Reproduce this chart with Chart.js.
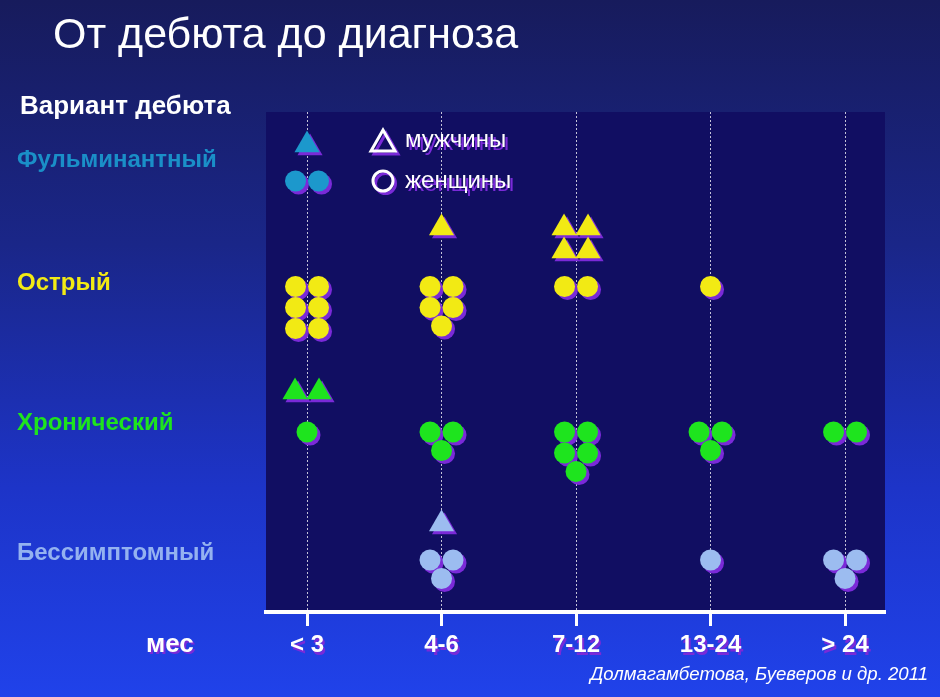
<!DOCTYPE html>
<html lang="ru">
<head>
<meta charset="utf-8">
<title>От дебюта до диагноза</title>
<script src="https://cdn.jsdelivr.net/npm/chart.js@4.4.1/dist/chart.umd.min.js"></script>
<style>
  html, body { margin: 0; padding: 0; }
  body {
    width: 940px; height: 697px; position: relative; overflow: hidden;
    background: linear-gradient(180deg, #171b5c 0%, #1a2688 35%, #1d34c8 70%, #2042ea 100%);
    font-family: "Liberation Sans", Arial, sans-serif; color: #fff;
  }
  #c { position: absolute; left: 0; top: 0; }
  .txt { position: absolute; white-space: nowrap; line-height: 1; }
  #title { left: 53px; top: 12px; font-size: 43px; }
  #head { left: 20px; top: 92px; font-size: 26px; font-weight: bold; }
  .leg { font-size: 24px; text-shadow: 3px 3px 0 #7a2ad8; }
  #unit { left: 146px; top: 630px; font-size: 26px; font-weight: bold; text-shadow: 2px 2px 0 #7a2ad8; }
  #cite { right: 12px; top: 665px; font-size: 18.6px; font-style: italic; }
  svg.sym { position: absolute; overflow: visible; }
</style>
</head>
<body>
<canvas id="c" width="940" height="697"></canvas>
<div class="txt" id="title">От дебюта до диагноза</div>
<div class="txt" id="head">Вариант дебюта</div>
<svg class="sym" style="left:369px;top:128px" width="28" height="24">
  <polygon points="17,5 29,26 5,26" fill="none" stroke="#7a2ad8" stroke-width="3"/>
  <polygon points="14,2 26,23 2,23" fill="none" stroke="#fff" stroke-width="3"/>
</svg>
<div class="txt leg" style="left:405px;top:127px">мужчины</div>
<svg class="sym" style="left:371px;top:169px" width="24" height="24">
  <circle cx="14.5" cy="14.5" r="10" fill="none" stroke="#7a2ad8" stroke-width="3"/>
  <circle cx="12" cy="12" r="10" fill="none" stroke="#fff" stroke-width="3"/>
</svg>
<div class="txt leg" style="left:405px;top:168px">женщины</div>
<div class="txt" id="unit">мес</div>
<div class="txt" id="cite">Долмагамбетова, Буеверов и др. 2011</div>
<script>
(function () {
  'use strict';

  // data: number of patients per onset variant and time-to-diagnosis period
  const periods = ['< 3', '4-6', '7-12', '13-24', '> 24'];
  const variants = ['Фульминантный', 'Острый', 'Хронический', 'Бессимптомный'];
  const menCounts = [
    [1, 0, 0, 0, 0],
    [0, 1, 4, 0, 0],
    [2, 0, 0, 0, 0],
    [0, 1, 0, 0, 0],
  ];
  const womenCounts = [
    [2, 0, 0, 0, 0],
    [6, 5, 2, 1, 0],
    [1, 3, 5, 3, 2],
    [0, 3, 0, 1, 3],
  ];

  // styles / layout
  const MARK_COLOR = ['#1c98cc', '#f2ea14', '#1ee41e', '#9cbcf0'];
  const LABEL_COLOR = ['#1a8fc8', '#f2ea14', '#1ee41e', '#94b2f0'];
  const SHADOW = '#7a2ad8';
  const PLOT_BG = '#110e62';
  const PX_PER_X = 134.5;                 // px per period on the x scale
  const MEN_ROW = [33, 116, 280, 412];    // y (px from plot top) of first triangle row
  const WOMEN_ROW = [69, 174.5, 320, 448];
  const LABEL_ROW = [48, 171, 311, 441];

  function circleOffsets(n) {
    const out = [];
    const rows = Math.floor(n / 2);
    for (let r = 0; r < rows; r++) out.push([-11.5, r * 21], [11.5, r * 21]);
    if (n % 2) out.push([0, rows ? (rows - 1) * 21 + 18.5 : 0]);
    return out;
  }
  function triangleOffsets(n) {
    const out = [];
    const rows = Math.floor(n / 2);
    for (let r = 0; r < rows; r++) out.push([-12, r * 23], [12, r * 23]);
    if (n % 2) out.push([0, rows * 23]);
    return out;
  }
  function points(counts, row, layout) {
    const pts = [];
    counts.forEach((n, p) => {
      layout(n).forEach(([dx, dy]) => pts.push({ x: p + dx / PX_PER_X, y: row + dy }));
    });
    return pts;
  }

  const datasets = [];
  variants.forEach((v, i) => {
    datasets.push({
      label: v + ' — мужчины', data: points(menCounts[i], MEN_ROW[i], triangleOffsets),
      pointStyle: 'triangle', pointRadius: 14.5, pointHoverRadius: 14.5,
      backgroundColor: MARK_COLOR[i], borderWidth: 0,
    });
    datasets.push({
      label: v + ' — женщины', data: points(womenCounts[i], WOMEN_ROW[i], circleOffsets),
      pointStyle: 'circle', pointRadius: 10.5, pointHoverRadius: 10.5,
      backgroundColor: MARK_COLOR[i], borderWidth: 0,
    });
  });

  const decor = {
    id: 'decor',
    beforeDraw(chart) {
      const { ctx, chartArea: a } = chart;
      ctx.save();
      ctx.fillStyle = PLOT_BG;
      ctx.fillRect(a.left, a.top, a.right - a.left, a.bottom - a.top);
      ctx.restore();
      const sx = chart.scales.x;
      if (!sx._shadowed) {
        const orig = sx.drawLabels;
        sx.drawLabels = function (area) {
          this.ctx.save();
          this.ctx.shadowColor = SHADOW;
          this.ctx.shadowOffsetX = 2;
          this.ctx.shadowOffsetY = 3;
          orig.call(this, area);
          this.ctx.restore();
        };
        sx._shadowed = true;
      }
    },
    beforeDatasetsDraw(chart) {
      const ctx = chart.ctx;
      ctx.save();
      ctx.shadowColor = SHADOW;
      ctx.shadowOffsetX = 3;
      ctx.shadowOffsetY = 3;
      ctx.shadowBlur = 0;
    },
    afterDatasetsDraw(chart) {
      chart.ctx.restore();
    },
  };

  new Chart(document.getElementById('c'), {
    type: 'scatter',
    data: { datasets },
    plugins: [decor],
    options: {
      responsive: false,
      animation: false,
      events: [],
      layout: { padding: { left: 17, top: 112, right: 55, bottom: 0 } },
      plugins: { legend: { display: false }, tooltip: { enabled: false } },
      scales: {
        x: {
          type: 'linear', min: -0.305, max: 4.297,
          afterBuildTicks: s => { s.ticks = periods.map((_, i) => ({ value: i })); },
          afterFit: s => { s.height = 85; },
          ticks: {
            callback: (v, i) => periods[i],
            color: '#fff', padding: 5, maxRotation: 0,
            font: { family: '"Liberation Sans", Arial', size: 24, weight: 'bold' },
          },
          grid: { color: 'rgba(255,255,255,0.75)', lineWidth: 1, tickLength: 14, tickColor: '#fff', tickWidth: 3 },
          border: { color: '#fff', width: 4, dash: [2, 2] },
        },
        y: {
          type: 'linear', min: 0, max: 500, reverse: true,
          afterBuildTicks: s => { s.ticks = LABEL_ROW.map(v => ({ value: v })); },
          afterFit: s => { s.width = 249; },
          ticks: {
            callback: (v, i) => variants[i],
            color: c => LABEL_COLOR[c.index], crossAlign: 'far', padding: 0,
            font: { family: '"Liberation Sans", Arial', size: 24, weight: 'bold' },
          },
          grid: { display: false },
          border: { display: false },
        },
      },
    },
  });
})();
</script>
</body>
</html>
